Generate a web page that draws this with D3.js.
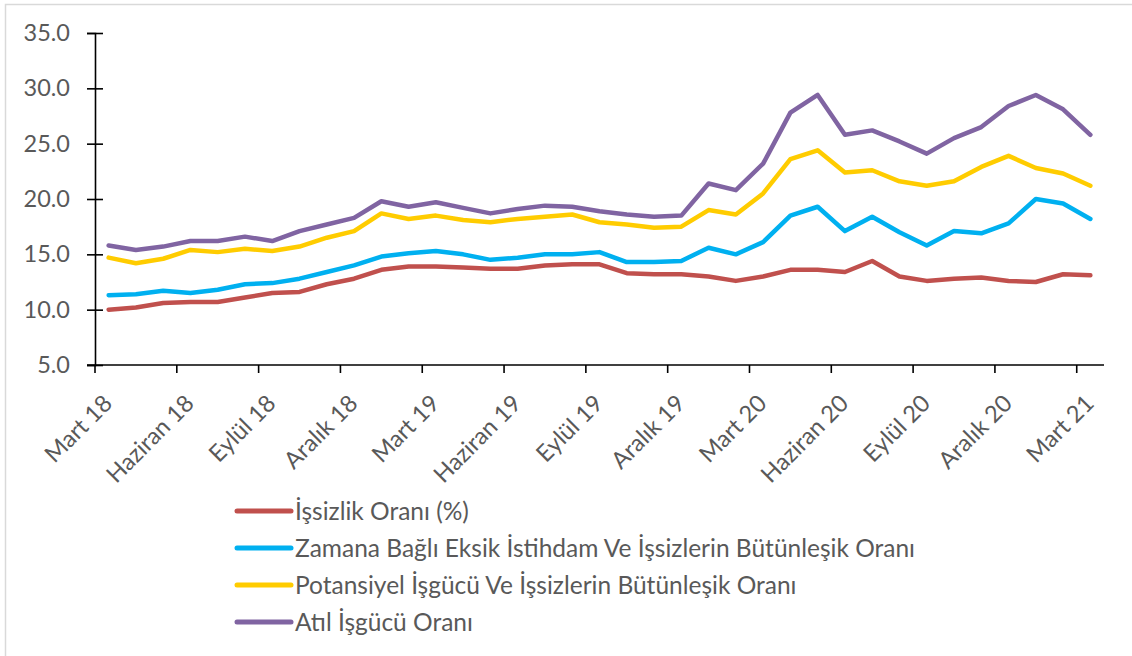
<!DOCTYPE html>
<html>
<head>
<meta charset="utf-8">
<script src="https://cdn.jsdelivr.net/npm/d3@7"></script>
<style>
  body { margin: 0; background: #ffffff; }
  svg { display: block; font-family: "Lato", "Open Sans", sans-serif; }
</style>
</head>
<body>
<div id="chart"></div>
<script>
// Atıl işgücü göstergeleri, Mart 2018 - Mart 2021

// categories
var months = ["Mart 18", "Nisan 18", "Mayıs 18", "Haziran 18", "Temmuz 18", "Ağustos 18",
              "Eylül 18", "Ekim 18", "Kasım 18", "Aralık 18", "Ocak 19", "Şubat 19",
              "Mart 19", "Nisan 19", "Mayıs 19", "Haziran 19", "Temmuz 19", "Ağustos 19",
              "Eylül 19", "Ekim 19", "Kasım 19", "Aralık 19", "Ocak 20", "Şubat 20",
              "Mart 20", "Nisan 20", "Mayıs 20", "Haziran 20", "Temmuz 20", "Ağustos 20",
              "Eylül 20", "Ekim 20", "Kasım 20", "Aralık 20", "Ocak 21", "Şubat 21",
              "Mart 21"];

// series values
var issizlik = [10.0, 10.2, 10.6, 10.7, 10.7, 11.1, 11.5, 11.6, 12.3, 12.8, 13.6, 13.9,
                13.9, 13.8, 13.7, 13.7, 14.0, 14.1, 14.1, 13.3, 13.2, 13.2, 13.0, 12.6,
                13.0, 13.6, 13.6, 13.4, 14.4, 13.0, 12.6, 12.8, 12.9, 12.6, 12.5, 13.2,
                13.1];
var zamanaBagli = [11.3, 11.4, 11.7, 11.5, 11.8, 12.3, 12.4, 12.8, 13.4, 14.0, 14.8, 15.1,
                   15.3, 15.0, 14.5, 14.7, 15.0, 15.0, 15.2, 14.3, 14.3, 14.4, 15.6, 15.0,
                   16.1, 18.5, 19.3, 17.1, 18.4, 17.0, 15.8, 17.1, 16.9, 17.8, 20.0, 19.6,
                   18.2];
var potansiyel = [14.7, 14.2, 14.6, 15.4, 15.2, 15.5, 15.3, 15.7, 16.5, 17.1, 18.7, 18.2,
                  18.5, 18.1, 17.9, 18.2, 18.4, 18.6, 17.9, 17.7, 17.4, 17.5, 19.0, 18.6,
                  20.5, 23.6, 24.4, 22.4, 22.6, 21.6, 21.2, 21.6, 22.9, 23.9, 22.8, 22.3,
                  21.2];
var atil = [15.8, 15.4, 15.7, 16.2, 16.2, 16.6, 16.2, 17.1, 17.7, 18.3, 19.8, 19.3,
            19.7, 19.2, 18.7, 19.1, 19.4, 19.3, 18.9, 18.6, 18.4, 18.5, 21.4, 20.8,
            23.2, 27.8, 29.4, 25.8, 26.2, 25.2, 24.1, 25.5, 26.5, 28.4, 29.4, 28.1,
            25.8];

// tick labels
var yTicks = [5, 10, 15, 20, 25, 30, 35];

var seriesNames = ["İşsizlik Oranı (%)",
                   "Zamana Bağlı Eksik İstihdam Ve İşsizlerin Bütünleşik Oranı",
                   "Potansiyel İşgücü Ve İşsizlerin Bütünleşik Oranı",
                   "Atıl İşgücü Oranı"];
var seriesColors = ["#C0504D", "#00B0F0", "#FFCC00", "#8064A2"];
var series = [issizlik, zamanaBagli, potansiyel, atil];

// global variables
var width = 1132;
var height = 656;
var plotLeft = 95, plotRight = 1104, plotTop = 33, plotBottom = 365;
var textColor = "#595959";

var svg = d3.select("#chart")
            .append("svg")
            .attr("width", width)
            .attr("height", height);

// light frame around the chart
svg.append("rect")
   .attr("x", 5.5).attr("y", 4.5)
   .attr("width", width + 20).attr("height", height + 20)
   .attr("fill", "none")
   .attr("stroke", "#d9d9d9")
   .attr("stroke-width", 1.5);

// scales
var x = d3.scaleBand()
          .domain(d3.range(months.length))
          .range([plotLeft, plotRight])
          .paddingInner(0).paddingOuter(0);

var y = d3.scaleLinear()
          .domain([5, 35])
          .range([plotBottom, plotTop]);

// y axis, ticks cross the axis line
var yAxis = svg.append("g")
               .attr("transform", "translate(" + plotLeft + ",0)")
               .call(d3.axisLeft(y)
                       .tickValues(yTicks)
                       .tickFormat(d3.format(".1f"))
                       .tickSizeOuter(0)
                       .tickSize(8)
                       .tickPadding(17));
yAxis.selectAll(".tick line").attr("x1", -8).attr("x2", 8);
yAxis.select(".domain").attr("stroke", "#000").attr("stroke-width", 1.6);
yAxis.selectAll(".tick line").attr("stroke", "#000").attr("stroke-width", 1.6);
yAxis.selectAll(".tick text")
     .attr("fill", textColor)
     .style("font-family", "Lato, sans-serif")
     .style("font-size", "23.5px");

// x axis line
svg.append("line")
   .attr("x1", plotLeft - 8).attr("x2", plotRight)
   .attr("y1", plotBottom).attr("y2", plotBottom)
   .attr("stroke", "#000")
   .attr("stroke-width", 1.6);

// x tick marks on category boundaries, every 3 months
var tickIdx = d3.range(0, months.length, 3);
svg.selectAll(".xtick")
   .data(tickIdx)
   .enter()
   .append("line")
   .attr("class", "xtick")
   .attr("x1", function(d) { return x(d); })
   .attr("x2", function(d) { return x(d); })
   .attr("y1", plotBottom)
   .attr("y2", plotBottom + 8)
   .attr("stroke", "#000")
   .attr("stroke-width", 1.6);

// rotated month labels
svg.selectAll(".xlabel")
   .data(tickIdx)
   .enter()
   .append("text")
   .attr("class", "xlabel")
   .attr("transform", function(d) {
       var cx = x(d) + x.bandwidth() / 2 - 7;
       return "translate(" + cx + "," + (plotBottom + 28) + ") rotate(-45)";
   })
   .attr("text-anchor", "end")
   .attr("dy", "0.72em")
   .attr("fill", textColor)
   .style("font-size", "23.5px")
   .text(function(d) { return months[d]; });

// lines
var line = d3.line()
             .x(function(d, i) { return x(i) + x.bandwidth() / 2; })
             .y(function(d) { return y(d); });

svg.selectAll(".series")
   .data(series)
   .enter()
   .append("path")
   .attr("class", "series")
   .attr("d", line)
   .attr("fill", "none")
   .attr("stroke", function(d, i) { return seriesColors[i]; })
   .attr("stroke-width", 4.5)
   .attr("stroke-linejoin", "round")
   .attr("stroke-linecap", "round");

// legend
var legend = svg.selectAll(".legend")
                .data(seriesNames)
                .enter()
                .append("g")
                .attr("class", "legend")
                .attr("transform", function(d, i) { return "translate(237," + (511 + i * 37) + ")"; });

legend.append("line")
      .attr("x1", 0).attr("x2", 54)
      .attr("stroke", function(d, i) { return seriesColors[i]; })
      .attr("stroke-width", 5)
      .attr("stroke-linecap", "round");

legend.append("text")
      .attr("x", 58)
      .attr("dy", "0.36em")
      .attr("fill", textColor)
      .style("font-size", "24.5px")
      .text(function(d) { return d; });
</script>
</body>
</html>
